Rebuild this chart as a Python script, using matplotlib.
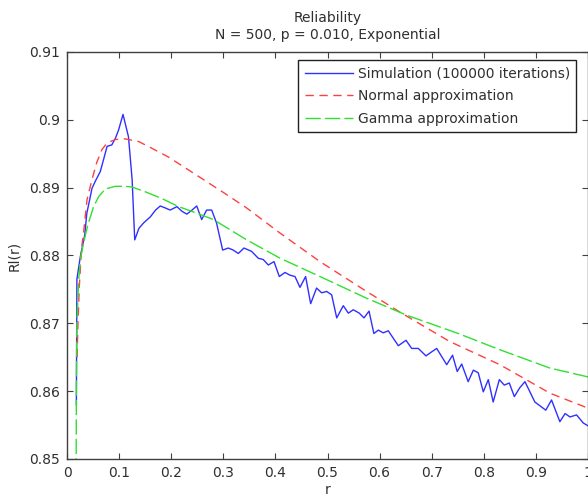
import matplotlib
matplotlib.use("Agg")
import matplotlib.pyplot as plt
from matplotlib.ticker import FixedLocator, FuncFormatter

plt.rcParams['font.family'] = ['DejaVu Sans']

# Simulation (100000 iterations)
sim_r = [0.018, 0.019, 0.0255, 0.030, 0.034, 0.038, 0.048, 0.054, 0.064, 0.070,
         0.077, 0.086, 0.093, 0.099, 0.1075, 0.118, 0.125, 0.130, 0.138, 0.147,
         0.160, 0.170, 0.179, 0.189, 0.198, 0.211, 0.221, 0.230, 0.240, 0.249,
         0.2585, 0.268, 0.2777, 0.287, 0.2988, 0.3097, 0.319, 0.3288, 0.3397, 0.3545,
         0.367, 0.3768, 0.3864, 0.3973, 0.4075, 0.4184, 0.428, 0.4376, 0.4472, 0.458,
         0.4677, 0.479, 0.4888, 0.4985, 0.508, 0.5177, 0.5303, 0.540, 0.5495, 0.561,
         0.570, 0.5797, 0.589, 0.5975, 0.607, 0.6167, 0.6263, 0.636, 0.6507, 0.6616,
         0.6743, 0.689, 0.700, 0.7096, 0.7192, 0.7288, 0.740, 0.749, 0.7576, 0.770,
         0.780, 0.7894, 0.799, 0.8086, 0.818, 0.8298, 0.8393, 0.849, 0.8586, 0.869,
         0.879, 0.898, 0.919, 0.930, 0.946, 0.956, 0.9655, 0.978, 0.991, 1.0]
sim_v = [0.8580, 0.8765, 0.8798, 0.8815, 0.8830, 0.8862, 0.8899, 0.8909, 0.8924, 0.8941,
         0.8961, 0.8963, 0.8973, 0.8985, 0.9008, 0.8975, 0.8912, 0.8823, 0.8840, 0.8848,
         0.8857, 0.8867, 0.8873, 0.8870, 0.8867, 0.8872, 0.8865, 0.8861, 0.8867, 0.8873,
         0.8853, 0.8867, 0.8867, 0.8848, 0.8808, 0.8811, 0.8808, 0.8803, 0.8811, 0.8806,
         0.8796, 0.8794, 0.8786, 0.8791, 0.8769, 0.8775, 0.8771, 0.8769, 0.8753, 0.8769,
         0.8729, 0.8752, 0.8745, 0.8747, 0.8742, 0.8708, 0.8726, 0.8715, 0.8720, 0.8715,
         0.8708, 0.8718, 0.8685, 0.8690, 0.8686, 0.8689, 0.8678, 0.8667, 0.8675, 0.8663,
         0.8663, 0.8652, 0.8658, 0.8663, 0.8651, 0.8639, 0.8653, 0.8629, 0.8640, 0.8614,
         0.8631, 0.8627, 0.8599, 0.8617, 0.8584, 0.8617, 0.8609, 0.8612, 0.8592, 0.8605,
         0.8614, 0.8584, 0.8572, 0.8587, 0.8555, 0.8567, 0.8562, 0.8565, 0.8553, 0.8549]

# Normal approximation
norm_r = [0.0195, 0.020, 0.021, 0.0224, 0.0236, 0.0255, 0.0275, 0.032, 0.0384, 0.048,
          0.057, 0.067, 0.077, 0.093, 0.110, 0.118, 0.1376, 0.163, 0.195, 0.2335,
          0.2617, 0.300, 0.345, 0.409, 0.4856, 0.575, 0.6424, 0.735, 0.831, 0.927, 1.0]
norm_v = [0.8650, 0.8670, 0.8700, 0.8727, 0.8754, 0.8779, 0.8808, 0.8835, 0.8882, 0.8912,
          0.8937, 0.8956, 0.8966, 0.8971, 0.8972, 0.8971, 0.8968, 0.8958, 0.8945, 0.8926,
          0.8912, 0.8893, 0.8870, 0.8833, 0.8791, 0.8747, 0.8715, 0.8673, 0.8639, 0.8597, 0.8575]

# Gamma approximation
gam_r = [0.0175, 0.018, 0.019, 0.0224, 0.026, 0.031, 0.040, 0.051, 0.061, 0.0735,
         0.0927, 0.110, 0.1248, 0.150, 0.182, 0.2144, 0.240, 0.281, 0.345, 0.409,
         0.4856, 0.575, 0.652, 0.751, 0.831, 0.927, 1.0]
gam_v = [0.8450, 0.8620, 0.8700, 0.8764, 0.8795, 0.8816, 0.8845, 0.8872, 0.8887, 0.8898,
         0.8902, 0.8902, 0.8901, 0.8894, 0.8884, 0.8872, 0.8865, 0.8853, 0.8823, 0.8796,
         0.8769, 0.8737, 0.8712, 0.8685, 0.8661, 0.8634, 0.8621]

x_ticks = [0, 0.1, 0.2, 0.3, 0.4, 0.5, 0.6, 0.7, 0.8, 0.9, 1.0]
y_ticks = [0.85, 0.86, 0.87, 0.88, 0.89, 0.90, 0.91]

fig = plt.figure(figsize=(5.88, 4.99), dpi=100)
ax = fig.add_axes([67/588, 1 - 459/499, 521/588, 407/499])

ax.plot(sim_r, sim_v, color='#3030ff', lw=1.0, label='Simulation (100000 iterations)')
ax.plot(norm_r, norm_v, color='#ff4040', lw=1.0, dashes=(6, 4), label='Normal approximation')
ax.plot(gam_r, gam_v, color='#30e030', lw=1.0, dashes=(11, 3), label='Gamma approximation')

ax.set_xlim(0, 1)
ax.set_ylim(0.85, 0.91)
ax.xaxis.set_major_locator(FixedLocator(x_ticks))
ax.yaxis.set_major_locator(FixedLocator(y_ticks))
fmt = FuncFormatter(lambda v, p: ('%g' % round(v, 4)))
ax.xaxis.set_major_formatter(fmt)
ax.yaxis.set_major_formatter(fmt)
ax.tick_params(direction='in', length=4, width=0.8, color='#404040',
               labelcolor='#303030', labelsize=10, top=True, right=True, pad=5)
for s in ax.spines.values():
    s.set_color('#404040')
    s.set_linewidth(1.0)

ax.set_title('Reliability\nN = 500, p = 0.010, Exponential', fontsize=10,
             color='#303030', pad=9, linespacing=1.35)
ax.set_xlabel('r', fontsize=10, color='#303030', labelpad=2)
ax.set_ylabel('Rl(r)', fontsize=10, color='#303030', labelpad=6)

leg = ax.legend(loc='upper right', bbox_to_anchor=(0.977, 0.980), borderaxespad=0,
                fontsize=10, handlelength=3.5, handletextpad=0.3, labelspacing=0.62,
                borderpad=0.45, fancybox=False, framealpha=1, edgecolor='#202020')
leg.get_frame().set_linewidth(1.0)
for t in leg.get_texts():
    t.set_color('#303030')

fig.savefig('out.png', dpi=100)
